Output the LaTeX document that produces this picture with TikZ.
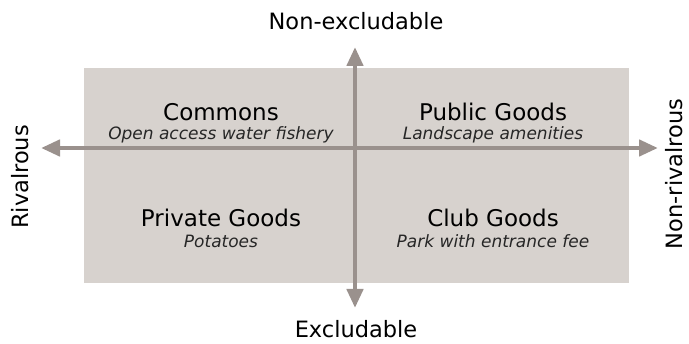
\documentclass[tikz,border=0pt]{standalone}
\usepackage{fontspec}
\setmainfont{DejaVu Sans}
\usetikzlibrary{arrows.meta}
\definecolor{boxfill}{HTML}{D7D2CE}
\definecolor{axiscol}{HTML}{9A918D}
\tikzset{
  axis/.style={draw=axiscol, line width=4.5pt, -{Triangle[length=19pt,width=16pt]}},
  head/.style={font=\fontsize{23}{26}\selectfont, text=black, inner sep=0pt},
  sub/.style={font=\fontsize{17}{20}\selectfont\itshape, text=black!85, inner sep=0pt},
  axlabel/.style={font=\fontsize{22.5}{26}\selectfont, text=black, inner sep=0pt}
}
\begin{document}
\begin{tikzpicture}[x=1pt,y=-1pt]
\useasboundingbox (0,0) rectangle (689,344);
\fill[boxfill] (84,68) rectangle (629,283);
\coordinate (c) at (355,148);
\coordinate (top) at (355,47);
\coordinate (bot) at (355,308);
\coordinate (lft) at (41,148);
\coordinate (rgt) at (658,148);
\draw[axis] (c) -- (top);
\draw[axis] (c) -- (bot);
\draw[axis] (c) -- (lft);
\draw[axis] (c) -- (rgt);
\node[axlabel] (ne) at (356,21) {Non-excludable};
\node[axlabel] (ex) at (356,329) {Excludable};
\node[axlabel, rotate=90] (riv) at (20,177) {Rivalrous};
\node[axlabel, rotate=90, anchor=base] (nriv) at (682.5,174) {Non-rivalrous};
\node[head] (commons) at (221,112) {Commons};
\node[sub] (commonsx) at (221,135) {Open access water fishery};
\node[head] (public) at (493,112) {Public Goods};
\node[sub] (publicx) at (493,135) {Landscape amenities};
\node[head] (private) at (221,218) {Private Goods};
\node[sub] (privatex) at (221,241) {Potatoes};
\node[head] (club) at (493,218) {Club Goods};
\node[sub] (clubx) at (493,241) {Park with entrance fee};
\end{tikzpicture}
\end{document}
